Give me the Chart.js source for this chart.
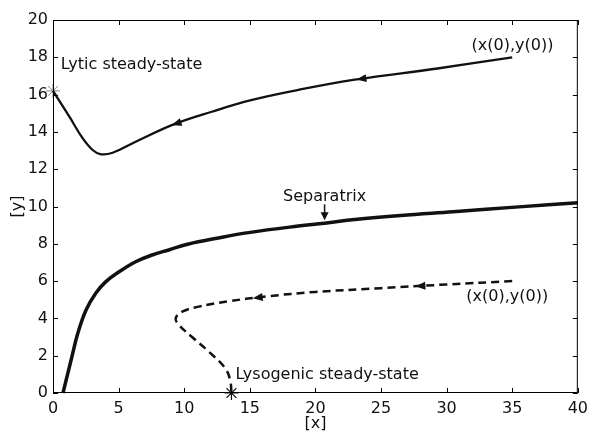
<!DOCTYPE html>
<html>
<head>
<meta charset="utf-8">
<script src="https://cdn.jsdelivr.net/npm/chart.js@4/dist/chart.umd.min.js"></script>
<style>
  html, body { margin: 0; padding: 0; background: #fff; }
  #wrap { width: 594px; height: 431px; }
</style>
</head>
<body>
<div id="wrap"><canvas id="phase"></canvas></div>
<script>
// Trajectories in the (x, y) phase plane, listed in the direction of flow

var lyticX = [35, 29.3, 23.0, 18.7, 15.1, 12.1, 9.2, 6.3, 4.54, 3.65, 3.02, 2.27, 1.26, 0];
var lyticY = [18.0, 17.4, 16.8, 16.25, 15.7, 15.08, 14.4, 13.47, 12.88, 12.8, 13.03, 13.65, 14.8, 16.2];

var sepX = [0.76, 1.38, 1.89, 2.52, 3.27, 4.03, 5.04, 6.3, 7.56, 8.82, 10.33, 12.5, 14.9, 18.7, 20.7, 23, 26.5, 30.5, 35.5, 40];
var sepY = [0, 1.77, 3.2, 4.45, 5.36, 5.97, 6.5, 7.04, 7.4, 7.67, 7.99, 8.3, 8.6, 8.95, 9.1, 9.3, 9.52, 9.72, 9.98, 10.2];

var lysoX = [35, 30, 25, 20, 16.3, 13.4, 11.1, 9.85, 9.35, 9.6, 10.6, 11.9, 13.1, 13.5, 13.6];
var lysoY = [6.0, 5.82, 5.62, 5.42, 5.18, 4.92, 4.63, 4.36, 4.0, 3.65, 3.0, 2.2, 1.35, 0.7, 0];

// steady states
var lyticSS = [0, 16.2];
var lysoSS = [13.6, 0];

// arrowheads along the trajectories (x positions)
var lyticArrows = [23.5, 9.4];
var lysoArrows = [28, 15.6];
var sepArrowX = 20.7;

var xTicks = [0, 5, 10, 15, 20, 25, 30, 35, 40];
var yTicks = [0, 2, 4, 6, 8, 10, 12, 14, 16, 18, 20];

var FONT = '"DejaVu Sans", sans-serif';

function toPoints(xs, ys) {
  return xs.map(function(x, i) { return { x: x, y: ys[i] }; });
}

// first segment (in data order) that spans the given x
function findOnCurve(xs, ys, x) {
  for (var i = 0; i < xs.length - 1; i++) {
    var a = xs[i], b = xs[i + 1];
    if ((x - a) * (x - b) <= 0 && a !== b) {
      var t = (x - a) / (b - a);
      return { i: i, y: ys[i] + t * (ys[i + 1] - ys[i]) };
    }
  }
  return null;
}

function arrowHead(ctx, px, py, ang, len, half) {
  ctx.save();
  ctx.translate(px, py);
  ctx.rotate(ang);
  ctx.beginPath();
  ctx.moveTo(len / 2, 0);
  ctx.lineTo(-len / 2, -half);
  ctx.lineTo(-len / 2, half);
  ctx.closePath();
  ctx.fill();
  ctx.restore();
}

var frameAndNotes = {
  id: 'frameAndNotes',
  afterDatasetsDraw: function(chart) {
    var ctx = chart.ctx, xs = chart.scales.x, ys = chart.scales.y;
    var a = chart.chartArea;
    ctx.save();

    // box with inward ticks on every side
    ctx.strokeStyle = '#000';
    ctx.lineWidth = 1;
    ctx.strokeRect(a.left + 0.5, a.top + 0.5, a.right - a.left - 1, a.bottom - a.top - 1);
    ctx.beginPath();
    xTicks.forEach(function(v) {
      var p = Math.round(xs.getPixelForValue(v)) + 0.5;
      ctx.moveTo(p, a.bottom); ctx.lineTo(p, a.bottom - 5);
      ctx.moveTo(p, a.top); ctx.lineTo(p, a.top + 5);
    });
    yTicks.forEach(function(v) {
      var p = Math.round(ys.getPixelForValue(v)) + 0.5;
      ctx.moveTo(a.left, p); ctx.lineTo(a.left + 5, p);
      ctx.moveTo(a.right, p); ctx.lineTo(a.right - 5, p);
    });
    ctx.stroke();

    // direction arrows
    ctx.fillStyle = '#111';
    function along(xsArr, ysArr, list) {
      list.forEach(function(x) {
        var hit = findOnCurve(xsArr, ysArr, x);
        if (!hit) return;
        var i = hit.i;
        var dx = xs.getPixelForValue(xsArr[i + 1]) - xs.getPixelForValue(xsArr[i]);
        var dy = ys.getPixelForValue(ysArr[i + 1]) - ys.getPixelForValue(ysArr[i]);
        arrowHead(ctx, xs.getPixelForValue(x), ys.getPixelForValue(hit.y), Math.atan2(dy, dx), 10, 4);
      });
    }
    along(lyticX, lyticY, lyticArrows);
    along(lysoX, lysoY, lysoArrows);

    // separatrix pointer
    var sh = findOnCurve(sepX, sepY, sepArrowX);
    var sx = xs.getPixelForValue(sepArrowX);
    var sy = ys.getPixelForValue(sh.y) - 3;
    ctx.strokeStyle = '#111';
    ctx.lineWidth = 1.5;
    ctx.beginPath();
    ctx.moveTo(sx, sy - 16);
    ctx.lineTo(sx, sy - 6);
    ctx.stroke();
    arrowHead(ctx, sx, sy - 4, Math.PI / 2, 8, 4);

    // annotations
    ctx.fillStyle = '#111';
    ctx.font = '16px ' + FONT;
    ctx.textBaseline = 'middle';
    ctx.textAlign = 'left';
    ctx.fillText('Lytic steady-state', xs.getPixelForValue(0.6), ys.getPixelForValue(17.6));
    ctx.fillText('(x(0),y(0))', xs.getPixelForValue(31.9), ys.getPixelForValue(18.6));
    ctx.fillText('(x(0),y(0))', xs.getPixelForValue(31.5), ys.getPixelForValue(5.15));
    ctx.fillText('Lysogenic steady-state', xs.getPixelForValue(13.9), ys.getPixelForValue(0.97));
    ctx.textAlign = 'center';
    ctx.fillText('Separatrix', xs.getPixelForValue(20.7), ys.getPixelForValue(10.5));
    ctx.restore();
  }
};

var lineBase = { showLine: true, pointRadius: 0, borderColor: '#111', tension: 0.4, fill: false, clip: false };

new Chart(document.getElementById('phase'), {
  type: 'scatter',
  data: {
    datasets: [
      Object.assign({ label: 'lytic', data: toPoints(lyticX, lyticY), borderWidth: 2.3 }, lineBase),
      Object.assign({ label: 'separatrix', data: toPoints(sepX, sepY), borderWidth: 3.5 }, lineBase),
      Object.assign({ label: 'lysogenic', data: toPoints(lysoX, lysoY), borderWidth: 2.5, borderDash: [8, 5] }, lineBase),
      {
        label: 'lytic steady state',
        data: [{ x: lyticSS[0], y: lyticSS[1] }],
        pointStyle: 'star', pointRadius: 7, borderWidth: 1,
        borderColor: '#888', backgroundColor: '#888', clip: false
      },
      {
        label: 'lysogenic steady state',
        data: [{ x: lysoSS[0], y: lysoSS[1] }],
        pointStyle: 'star', pointRadius: 7, borderWidth: 1.2,
        borderColor: '#111', backgroundColor: '#111', clip: false
      }
    ]
  },
  options: {
    responsive: true,
    maintainAspectRatio: false,
    animation: false,
    events: [],
    layout: { padding: { top: 20, right: 12, left: 0, bottom: 0 } },
    plugins: { legend: { display: false }, tooltip: { enabled: false } },
    scales: {
      x: {
        type: 'linear', min: 0, max: 40,
        afterFit: function(s) { s.height = 38; },
        afterBuildTicks: function(s) { s.ticks = xTicks.map(function(v) { return { value: v }; }); },
        grid: { display: false, drawTicks: false },
        border: { display: false },
        ticks: { color: '#111', padding: 6, maxRotation: 0, font: { family: FONT, size: 16 } },
        title: { display: true, text: '[x]', color: '#111', padding: { top: 0, bottom: -2 }, font: { family: FONT, size: 16 } }
      },
      y: {
        type: 'linear', min: 0, max: 20,
        afterFit: function(s) { s.width = 53; },
        afterBuildTicks: function(s) { s.ticks = yTicks.map(function(v) { return { value: v }; }); },
        grid: { display: false, drawTicks: false },
        border: { display: false },
        ticks: { color: '#111', padding: 5, font: { family: FONT, size: 16 } },
        title: { display: true, text: '[y]', color: '#111', padding: { top: 8, bottom: 0 }, font: { family: FONT, size: 16 } }
      }
    }
  },
  plugins: [frameAndNotes]
});
</script>
</body>
</html>
